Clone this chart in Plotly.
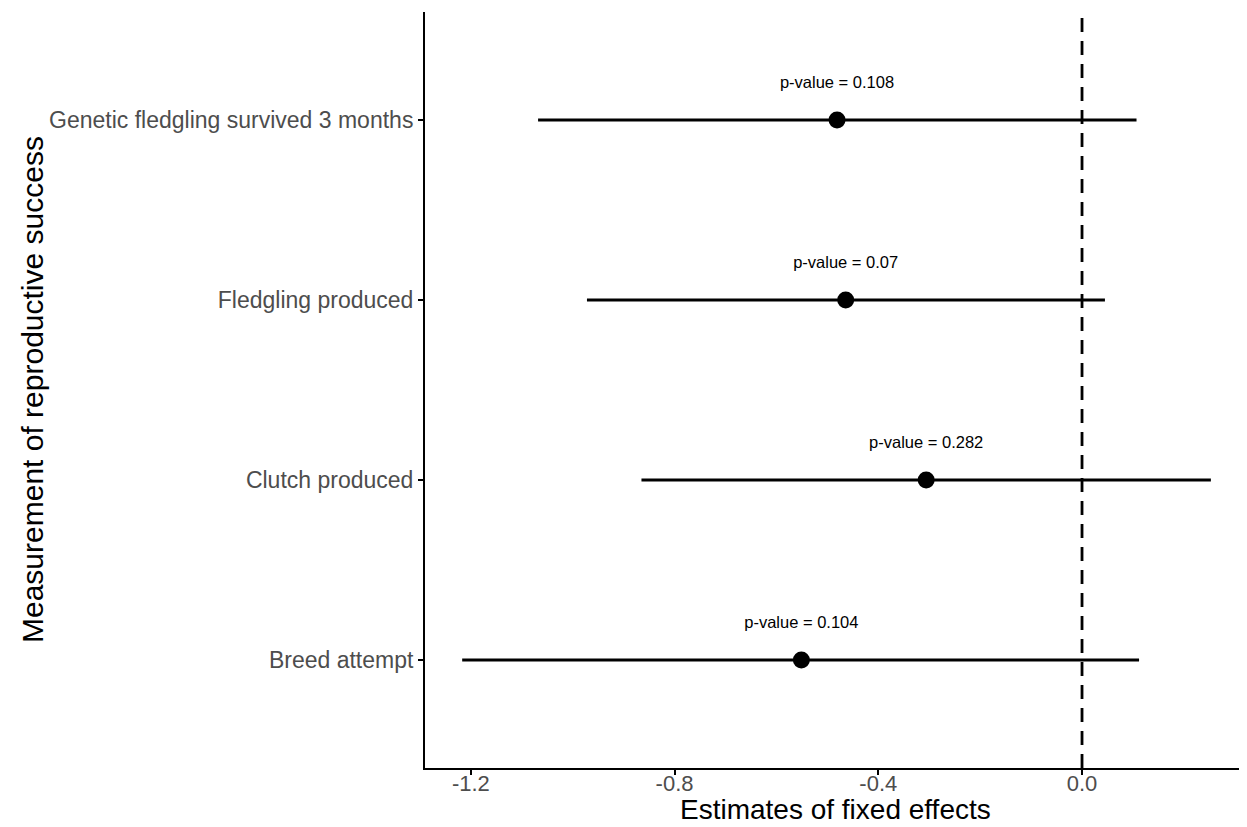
import plotly.graph_objects as go

categories = ["Breed attempt", "Clutch produced", "Fledgling produced", "Genetic fledgling survived 3 months"]
estimates = [-0.551, -0.306, -0.464, -0.481]
ci_low = [-1.217, -0.865, -0.972, -1.068]
ci_high = [0.112, 0.253, 0.045, 0.107]
p_labels = ["p-value = 0.104", "p-value = 0.282", "p-value = 0.07", "p-value = 0.108"]
x_ticks = [-1.2, -0.8, -0.4, 0.0]
x_ticktext = ["-1.2", "-0.8", "-0.4", "0.0"]

ypos = list(range(1, len(categories) + 1))
FONT = "Liberation Sans, Arial, sans-serif"

fig = go.Figure()

fig.add_trace(go.Scatter(
    x=estimates, y=ypos, mode="markers",
    marker=dict(color="black", size=17),
    error_x=dict(type="data", symmetric=False,
                 array=[h - e for h, e in zip(ci_high, estimates)],
                 arrayminus=[e - l for e, l in zip(estimates, ci_low)],
                 color="black", thickness=2.8, width=0),
    showlegend=False, hoverinfo="skip",
))

fig.add_trace(go.Scatter(
    x=estimates, y=[y + 0.2 for y in ypos], mode="text",
    text=p_labels, textposition="middle center",
    textfont=dict(family=FONT, size=16.5, color="black"),
    showlegend=False, hoverinfo="skip",
))

fig.add_shape(type="line", x0=0, x1=0, y0=0, y1=1, xref="x", yref="paper",
              line=dict(color="black", width=2.8, dash="14px,9px"))

fig.add_annotation(text="Estimates of fixed effects", x=0.5, y=0, xref="paper", yref="paper",
                   xanchor="center", yanchor="middle", yshift=-41, showarrow=False,
                   font=dict(family=FONT, size=28, color="black"))
fig.add_annotation(text="Measurement of reproductive success", x=0, y=0.5, xref="paper", yref="paper",
                   xanchor="center", yanchor="middle", xshift=-393, textangle=-90, showarrow=False,
                   font=dict(family=FONT, size=30, color="black"))

fig.update_layout(
    width=1239, height=819,
    margin=dict(l=417, r=2, t=4, b=59, autoexpand=False),
    plot_bgcolor="white", paper_bgcolor="white",
    font=dict(family=FONT),
)

fig.update_xaxes(
    range=[-1.29, 0.32], tickvals=x_ticks, ticktext=x_ticktext,
    showline=True, linecolor="black", linewidth=2, mirror=False,
    ticks="outside", ticklen=5, tickwidth=1.5, tickcolor="black",
    ticklabelstandoff=-10,
    tickfont=dict(size=22, color="#4d4d4d"),
    showgrid=False, zeroline=False, automargin=False,
)

fig.update_yaxes(
    range=[0.4, 4.6], tickvals=ypos, ticktext=categories,
    showline=True, linecolor="black", linewidth=2,
    ticks="outside", ticklen=5, tickwidth=1.5, tickcolor="black",
    tickfont=dict(size=23, color="#4d4d4d"),
    showgrid=False, zeroline=False, automargin=False,
)

fig.write_html("out.html")
